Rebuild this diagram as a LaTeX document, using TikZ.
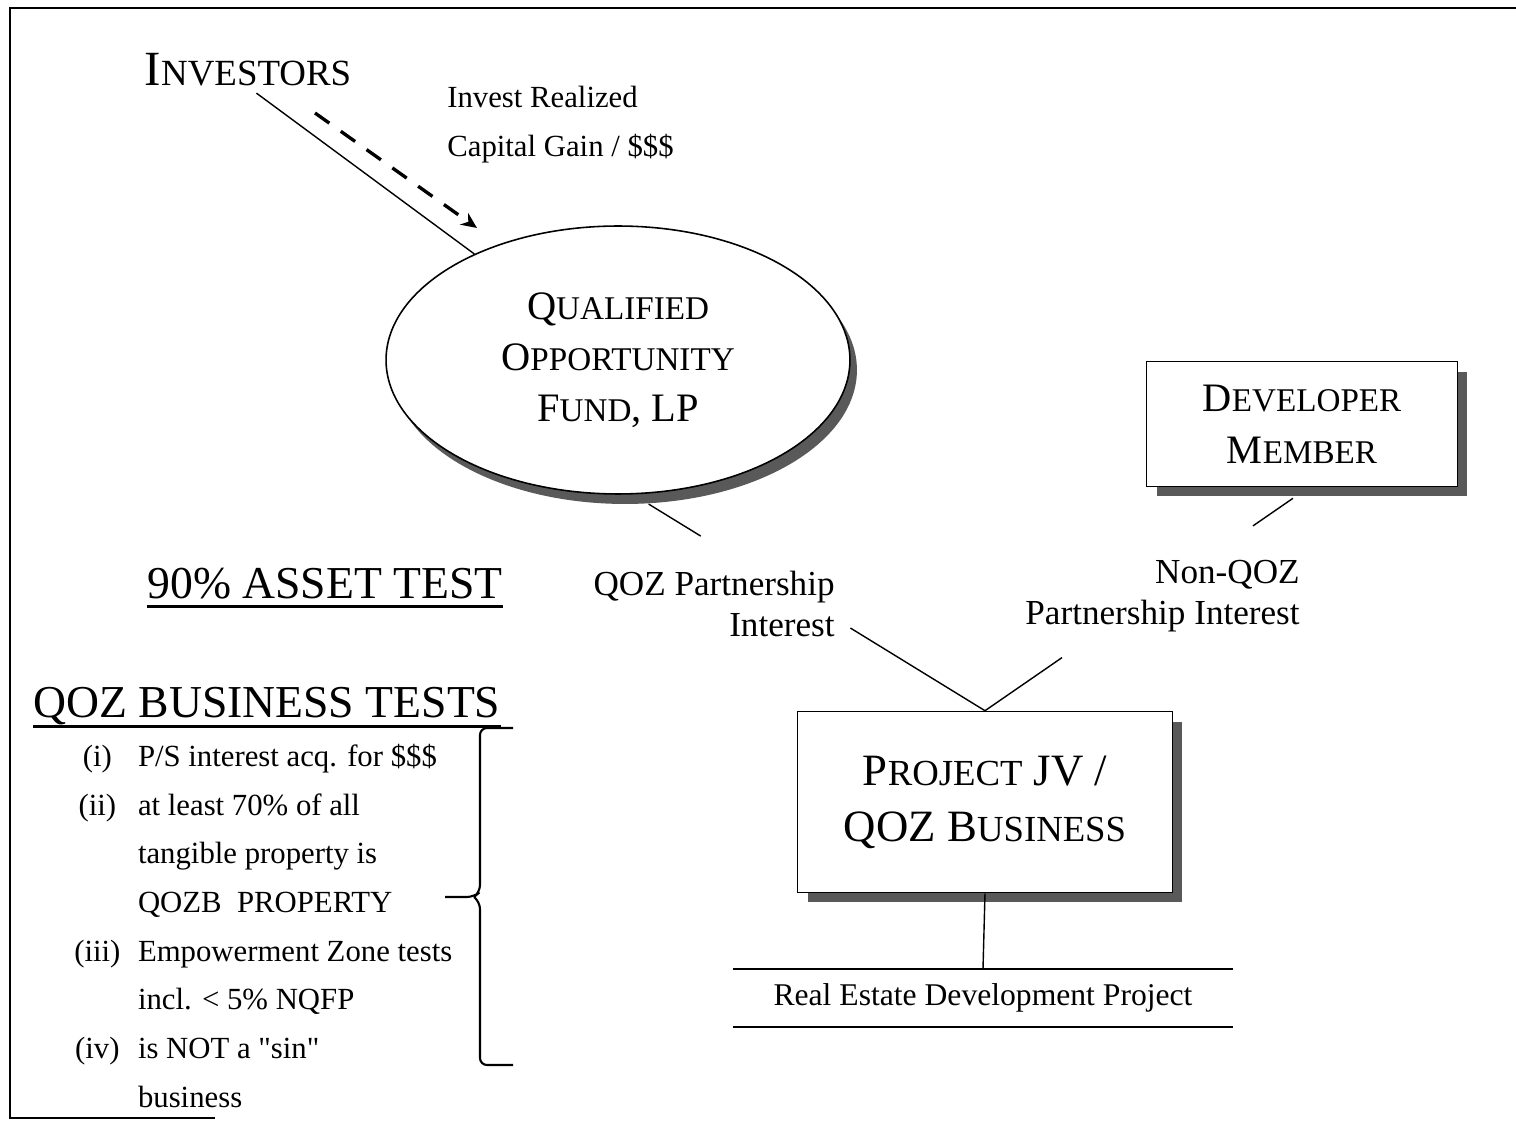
\documentclass[tikz,border=0pt]{standalone}
\usepackage{fontspec}
\setmainfont{Liberation Serif}
\usepackage{graphicx}
\usetikzlibrary{shapes.geometric,shadows,calc,arrows.meta}

\newcommand{\smc}[1]{\scalebox{0.82}{#1}}

\begin{document}
\begin{tikzpicture}[
        x=0.02cm, y=-0.02cm,
        fundoval/.style={ellipse, draw=black, line width=0.9pt, fill=white, minimum width=9.28cm, minimum height=5.36cm, align=center, font=\fontsize{23}{29}\selectfont, drop shadow={shadow xshift=0.14cm, shadow yshift=-0.2cm, fill=black!65, opacity=1}},
        entitybox/.style={rectangle, draw=black, line width=0.9pt, fill=white, align=center, drop shadow={shadow xshift=0.2cm, shadow yshift=-0.2cm, fill=black!65, opacity=1}},
        note/.style={inner sep=0pt, font=\fontsize{20}{23}\selectfont},
        heading/.style={inner sep=0pt, font=\fontsize{26}{28}\selectfont},
        link/.style={line width=0.8pt},
        rule/.style={line width=1.6pt},
        gainarrow/.style={-{Stealth[length=9pt,width=8pt]}, line width=1.9pt, dash pattern=on 10pt off 8pt}
    ]
    \useasboundingbox (0,0) rectangle (1516,1121);

    % page frame
    \draw[line width=1.2pt] (1516,8) -- (10,8) -- (10,1118) -- (215,1118);

    % Investors and the fund
    \node[inner sep=0pt, anchor=base, font=\fontsize{28}{32}\selectfont] (investors) at (248,86) {I\scalebox{0.75}{NVESTORS}};
    \node[note, align=left, anchor=north west, font=\fontsize{17.5}{28}\selectfont] (capgain) at (447,86) {Invest Realized\\Capital Gain / \$\$\$};
    \node[fundoval] (qof) at (618,360) {Q\smc{UALIFIED}\\O\smc{PPORTUNITY}\\F\smc{UND}, LP};

    % Members and the JV
    \node[entitybox, minimum width=6.22cm, minimum height=2.5cm, font=\fontsize{23}{29.5}\selectfont] (dev) at (1302,424) {D\smc{EVELOPER}\\M\smc{EMBER}};
    \node[entitybox, minimum width=7.5cm, minimum height=3.62cm, font=\fontsize{25.5}{32}\selectfont] (proj) at (985,802) {P\smc{ROJECT} JV /\\QOZ B\smc{USINESS}};
    \node[note, align=right, anchor=east] (qozint) at (835,604) {QOZ Partnership\\Interest};
    \node[note, align=right, anchor=east] (nonqozint) at (1300,596) {Non-QOZ\\Partnership Interest};
    \node[minimum width=10cm, minimum height=1.14cm, inner sep=0pt, font=\fontsize{18}{22}\selectfont] (rep) at (983,998) {Real Estate Development Project};

    % Tests
    \node[heading, anchor=base west] (asset) at (147,599) {90\% ASSET TEST};
    \node[heading, anchor=base west] (biztests) at (33,718) {QOZ BUSINESS TESTS};
    \node[inner sep=0pt, anchor=north west, font=\fontsize{17.5}{21}\selectfont] (testlist) at (74,732) {\renewcommand\arraystretch{1.32}%
        \begin{tabular}{@{}c@{\hspace{10pt}}l@{}}
        (i) & P/S interest acq. for \$\$\$\\
        (ii) & at least 70\% of all\\
         & tangible property is\\
         & QOZB~ PROPERTY\\
        (iii) & Empowerment Zone tests\\
         & incl. < 5\% NQFP\\
        (iv) & is NOT a \textquotedbl sin\textquotedbl\\
         & business
        \end{tabular}};

    % Connectors
    \coordinate (gainfrom) at (315,113);
    \coordinate (gainto) at (477,228);
    \coordinate (qofbase) at ([shift={(7,10)}]qof.-80);
    \coordinate (devbase) at ([shift={(-9,11)}]dev.south);
    \draw[link, shorten <=6pt] (investors.south) -- (qof);
    \draw[gainarrow] (gainfrom) -- (gainto);
    \draw[link] (qofbase) -- ($(qofbase)!0.155!(proj.north)$);
    \draw[link] ($(qofbase)!0.6!(proj.north)$) -- (proj.north);
    \draw[link] (devbase) -- ($(devbase)!0.13!(proj.north)$);
    \draw[link] ($(devbase)!0.75!(proj.north)$) -- (proj.north);
    \draw[link] (proj.south) -- (rep.north);
    \draw[line width=1.1pt] (rep.north west) -- (rep.north east) (rep.south west) -- (rep.south east);

    % Underlines and brace
    \draw[rule] ([yshift=-4.5pt]asset.base west) -- ([yshift=-4.5pt]asset.base east);
    \draw[rule] ([yshift=-5pt]biztests.base west) -- ([yshift=-5pt]biztests.base east);
    \draw[line width=1.2pt, rounded corners=4pt] (513,728) -- (480,728) -- (480,892) -- (474,897) -- (445,897)
        (474,897) -- (480,902) -- (480,1065) -- (513,1065);

\end{tikzpicture}
\end{document}
